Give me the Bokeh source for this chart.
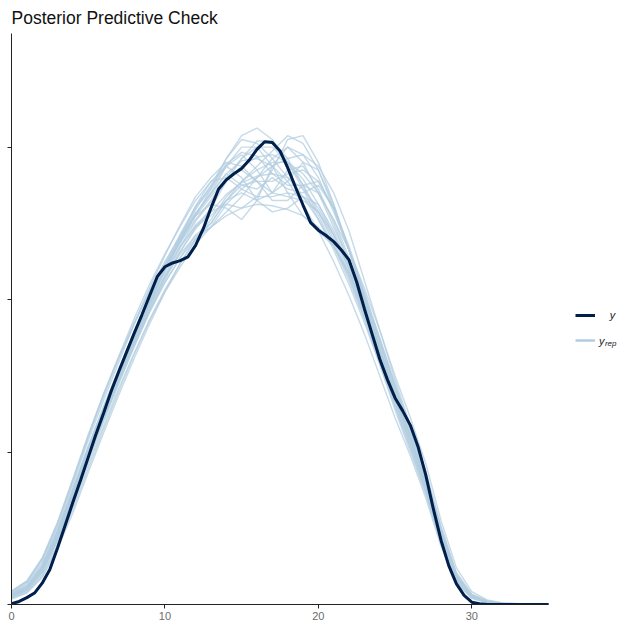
from bokeh.plotting import figure
from bokeh.models import Legend, LegendItem, Label, FixedTicker
from bokeh.embed import file_html
from bokeh.resources import INLINE

# ---- data (density x 1000) ----
x_obs = [i * 0.5 for i in range(71)]          # evaluation grid of observed density, 0..35
y_obs = [0.1, 0.4, 0.9, 1.5, 2.8, 4.6, 7.4, 10.4, 13.4, 16.3, 19.3, 22.3, 25.1, 28.0,
         30.6, 33.1, 35.6, 38.0, 40.5, 43.0, 44.3, 44.8, 45.1, 45.6, 47.1, 49.3, 52.0,
         54.5, 55.7, 56.5, 57.2, 58.3, 59.7, 60.7, 60.6, 59.5, 57.3, 54.8, 52.4, 50.1,
         49.1, 48.4, 47.6, 46.5, 45.2, 42.3, 38.8, 35.5, 32.2, 29.5, 27.1, 25.4, 23.5,
         20.7, 17.0, 12.5, 8.4, 5.1, 2.7, 1.2, 0.3, 0.1, 0, 0, 0, 0, 0, 0, 0, 0, 0]

x_rep = list(range(36))                        # evaluation grid of replicated densities
yrep_01 = [1.3,2.2,4.8,9.2,14.5,20.0,25.0,30.0,35.0,40.0,44.0,47.5,51.0,54.5,58.5,61.0,60.5,58.5,56.0,53.5,50.5,47.0,43.0,38.0,32.5,27.0,21.5,15.5,8.5,3.2,1.0,0.3,0.1,0,0,0]
yrep_02 = [1.0,1.9,4.2,8.4,13.5,18.8,24.0,29.0,33.8,38.3,42.2,45.5,48.5,50.0,53.0,55.5,57.5,59.5,61.5,60.5,57.0,52.0,46.5,40.5,34.5,28.5,23.0,17.0,9.8,3.8,1.2,0.4,0.1,0,0,0]
yrep_03 = [1.1,2.1,4.6,9.0,14.3,19.8,24.8,29.8,34.8,39.5,44.0,48.2,52.3,55.5,57.5,56.0,53.0,54.0,57.0,57.5,54.5,50.0,45.0,39.5,33.5,27.5,22.0,16.0,9.0,3.5,1.1,0.3,0.1,0,0,0]
yrep_04 = [1.4,2.4,5.0,9.5,15.0,20.5,25.5,30.5,35.0,39.3,43.0,46.0,48.3,49.5,51.0,52.0,52.5,52.3,51.8,51.0,49.5,47.0,43.5,38.5,33.0,27.5,22.0,16.0,9.0,3.5,1.1,0.4,0.1,0,0,0]
yrep_05 = [1.7,3.0,5.9,10.5,16.2,22.0,27.3,32.3,36.8,41.0,44.5,47.5,50.5,53.0,56.0,58.5,60.0,60.0,58.0,55.0,51.5,47.5,43.0,37.5,31.5,25.5,20.0,14.5,8.0,3.0,0.9,0.3,0.1,0,0,0]
yrep_06 = [0.8,1.6,3.7,7.6,12.5,17.8,23.0,28.0,32.8,37.2,41.0,44.3,47.3,49.5,52.5,54.5,56.0,57.5,58.5,59.0,57.5,54.0,49.0,42.5,36.0,29.5,23.5,17.5,10.3,4.2,1.4,0.5,0.2,0.1,0,0]
yrep_07 = [1.2,2.2,4.8,9.3,14.7,20.2,25.3,30.3,35.0,39.6,43.8,47.6,51.2,54.0,57.5,59.0,57.0,54.0,55.5,58.0,57.0,52.5,46.5,40.0,33.5,27.5,22.0,16.0,8.8,3.4,1.0,0.3,0.1,0,0,0]
yrep_08 = [1.6,2.8,5.6,10.2,15.8,21.5,26.8,31.8,36.8,41.5,45.8,49.8,53.5,56.0,58.0,57.5,55.5,54.0,53.5,53.0,51.5,48.5,44.0,38.5,32.5,26.5,21.0,15.0,8.2,3.1,0.9,0.3,0.1,0,0,0]
yrep_09 = [1.0,2.0,4.4,8.7,14.0,19.4,24.5,29.5,34.2,38.8,42.8,46.3,49.3,51.5,53.8,55.3,56.2,56.5,56.0,54.5,52.0,48.5,44.5,39.5,34.0,28.0,22.5,16.5,9.3,3.6,1.1,0.4,0.1,0,0,0]
yrep_10 = [1.1,2.0,4.5,8.9,14.2,19.7,24.8,29.8,34.8,39.6,44.0,48.0,51.8,55.0,58.5,61.5,62.5,61.0,58.0,54.5,50.5,46.5,42.0,37.0,31.5,26.0,20.5,15.0,8.3,3.2,1.0,0.3,0.1,0,0,0]
yrep_11 = [1.3,2.3,5.0,9.5,14.8,20.3,25.5,30.5,35.3,40.0,44.3,48.0,51.0,52.5,52.0,50.5,53.0,57.5,60.0,58.0,54.0,49.5,45.0,40.0,34.5,28.5,23.0,17.0,9.8,3.9,1.2,0.4,0.1,0,0,0]
yrep_12 = [0.7,1.5,3.5,7.3,12.0,17.3,22.5,27.5,32.3,36.8,41.0,44.8,48.0,50.5,53.5,55.5,57.0,58.0,58.0,56.5,54.0,50.5,46.5,41.5,36.0,30.0,24.5,18.5,11.0,4.8,1.7,0.6,0.2,0.1,0,0]
yrep_13 = [1.5,2.6,5.3,9.8,15.3,20.8,26.0,31.0,35.6,40.0,43.8,47.0,49.6,51.0,53.0,54.0,53.0,51.5,52.0,53.5,52.5,49.0,44.5,39.0,33.0,27.0,21.5,15.5,8.5,3.2,1.0,0.3,0.1,0,0,0]
yrep_14 = [1.2,2.2,4.9,9.4,14.8,20.4,25.6,30.6,35.5,40.2,44.5,48.4,52.0,54.5,57.5,60.0,60.0,57.5,54.0,51.0,49.0,47.0,43.5,38.5,33.0,27.0,21.5,15.5,8.6,3.3,1.0,0.3,0.1,0,0,0]
yrep_15 = [1.0,1.9,4.3,8.6,13.9,19.3,24.4,29.4,34.2,38.9,43.0,46.8,49.8,51.5,52.5,52.0,53.5,57.0,61.0,61.5,58.0,52.5,46.5,40.5,34.5,28.5,23.0,17.0,9.6,3.8,1.2,0.4,0.1,0,0,0]
yrep_16 = [1.8,3.1,6.1,10.8,16.5,22.3,27.6,32.5,37.0,41.2,45.0,48.3,51.3,53.8,56.5,58.2,58.5,57.5,55.5,52.5,49.0,45.0,40.5,35.5,30.0,24.5,19.5,14.0,7.6,2.8,0.8,0.2,0.1,0,0,0]
yrep_17 = [1.1,2.1,4.7,9.1,14.4,19.9,25.0,30.0,34.8,39.5,43.8,47.8,51.3,54.0,56.5,55.0,54.5,56.0,54.5,54.0,55.0,52.0,46.5,40.0,33.5,27.5,22.0,16.0,8.9,3.4,1.0,0.3,0.1,0,0,0]
yrep_18 = [1.1,2.0,4.5,8.8,14.0,19.5,24.6,29.6,34.5,39.2,43.3,47.0,50.3,52.8,55.5,57.5,58.7,59.0,58.0,55.8,52.5,48.5,44.0,38.8,33.2,27.4,21.9,15.9,8.8,3.4,1.0,0.3,0.1,0,0,0]
yrep_19 = [0.9,1.7,3.9,7.9,12.9,18.3,23.4,28.4,33.0,37.4,41.3,44.7,47.8,50.0,53.0,55.0,55.5,55.5,56.5,57.0,55.5,52.0,47.0,41.0,35.0,29.0,23.0,17.0,9.9,3.9,1.2,0.4,0.1,0,0,0]
yrep_20 = [1.7,3.0,6.0,10.7,16.3,22.0,27.6,32.6,37.5,42.0,46.0,49.6,53.0,55.5,56.0,54.5,53.5,53.5,54.0,53.5,51.5,48.0,43.5,38.0,32.0,26.0,20.5,14.7,8.0,3.0,0.9,0.3,0.1,0,0,0]
yrep_21 = [1.3,2.3,4.9,9.4,14.7,20.2,25.3,30.3,35.1,39.8,44.0,47.8,51.0,53.5,56.0,57.0,55.5,53.0,53.0,55.0,55.5,52.0,46.5,40.0,33.8,27.8,22.2,16.2,9.0,3.5,1.1,0.3,0.1,0,0,0]
yrep_22 = [1.0,1.9,4.2,8.4,13.6,19.0,24.2,29.2,33.9,38.5,42.6,46.3,49.5,52.0,55.5,58.5,60.8,60.8,58.5,55.0,51.0,47.0,42.5,37.5,32.0,26.5,21.0,15.3,8.5,3.2,1.0,0.3,0.1,0,0,0]
yrep_23 = [1.1,2.1,4.6,9.0,14.2,19.6,24.7,29.6,34.2,38.5,42.3,45.5,48.0,49.5,51.5,53.5,56.0,58.5,60.0,59.0,56.0,51.5,46.5,40.8,34.8,28.8,23.2,17.1,9.9,3.9,1.2,0.4,0.1,0,0,0]
yrep_24 = [1.4,2.4,5.1,9.7,15.1,20.6,25.8,30.8,35.8,40.4,44.7,48.6,52.2,54.8,57.8,59.3,58.8,56.5,55.0,55.0,54.0,50.5,45.5,39.5,33.3,27.3,21.8,15.8,8.7,3.3,1.0,0.3,0.1,0,0,0]

yrep_all = [yrep_01, yrep_02, yrep_03, yrep_04, yrep_05, yrep_06, yrep_07, yrep_08,
            yrep_09, yrep_10, yrep_11, yrep_12, yrep_13, yrep_14, yrep_15, yrep_16,
            yrep_17, yrep_18, yrep_19, yrep_20, yrep_21, yrep_22, yrep_23, yrep_24]

x_ticks = [0, 10, 20, 30]
y_ticks = [0, 20, 40, 60]
x_axis_bounds = (0, 35)

assert len(x_obs) == len(y_obs)
for r in yrep_all:
    assert len(r) == len(x_rep), len(r)

DARK = "#011f4b"
LIGHT = "#b3cde0"
FONT = "Liberation Sans"
NAN = float("nan")

p = figure(frame_width=612, frame_height=571, x_range=(0, 39.89), y_range=(0, 74.9),
           output_backend="svg", toolbar_location=None,
           min_border_left=11, min_border_right=0, min_border_top=32, min_border_bottom=0)

p.title.text = "Posterior Predictive Check"
p.title.text_font = FONT
p.title.text_font_size = "17.5px"
p.title.text_font_style = "normal"
p.title.text_color = "#111111"
p.title.align = "left"
p.title.standoff = 11

p.xgrid.visible = False
p.ygrid.visible = False
p.outline_line_color = None

for ax in (p.xaxis[0], p.yaxis[0]):
    ax.axis_line_color = "#222222"
    ax.axis_line_width = 1
    ax.major_tick_line_color = "#222222"
    ax.major_tick_in = 0
    ax.major_tick_out = 4
    ax.minor_tick_line_color = None

p.xaxis.bounds = x_axis_bounds
p.xaxis.ticker = FixedTicker(ticks=x_ticks)
p.xaxis.major_label_text_font = FONT
p.xaxis.major_label_text_font_size = "11px"
p.xaxis.major_label_text_color = "#6b6b6b"
p.xaxis.major_label_standoff = 3

p.yaxis.ticker = FixedTicker(ticks=y_ticks)
p.yaxis.major_label_overrides = {t: "" for t in y_ticks}
p.yaxis.major_label_standoff = 0
p.yaxis.major_label_text_font_size = "0px"

p.multi_line(xs=[x_rep] * len(yrep_all), ys=yrep_all, line_color=LIGHT,
             line_width=1.4, line_alpha=0.75)
p.line(x_obs, y_obs, line_color=DARK, line_width=3)

# legend samples (labels drawn separately for the subscript)
r_dark = p.line([NAN], [NAN], line_color=DARK, line_width=3)
r_light = p.line([NAN], [NAN], line_color=LIGHT, line_width=2.5)
legend = Legend(items=[LegendItem(label="y", renderers=[r_dark]),
                       LegendItem(label="y", renderers=[r_light])],
                location=(564, 254), glyph_width=20, glyph_height=20, spacing=5,
                padding=0, margin=0, label_standoff=0, label_width=1,
                label_text_alpha=0, label_text_font_size="10px",
                border_line_color=None, background_fill_alpha=0)
p.add_layout(legend, "center")

p.add_layout(Label(x=39.17, y=38.0, text="y",
                   text_font=FONT, text_font_style="italic", text_font_size="11px",
                   text_align="center", text_baseline="middle", text_color="#222222"))
p.add_layout(Label(x=38.65, y=34.5, text="y",
                   text_font=FONT, text_font_style="italic", text_font_size="11px",
                   text_align="right", text_baseline="middle", text_color="#222222"))
p.add_layout(Label(x=38.68, y=34.2, text="rep",
                   text_font=FONT, text_font_style="italic", text_font_size="8px",
                   text_align="left", text_baseline="middle", text_color="#222222"))

open("out.html", "w").write(file_html(p, INLINE))
